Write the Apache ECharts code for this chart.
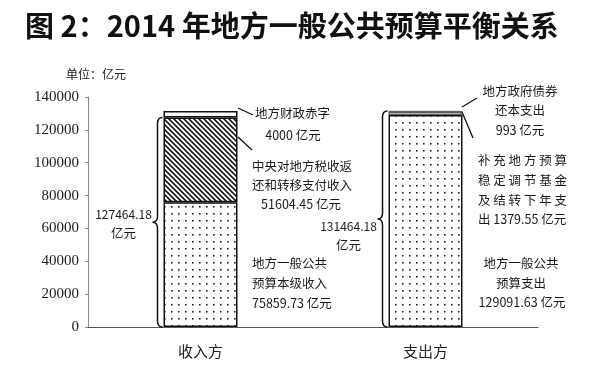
<!DOCTYPE html>
<html><head><meta charset="utf-8">
<script src="https://cdn.jsdelivr.net/npm/echarts@6/dist/echarts.min.js"></script>
<style>html,body{margin:0;padding:0;background:#fff}#c{width:600px;height:365px}</style>
</head><body><div id="c"></div>
<script>
// ---- data ----
const categories = ['收入方', '支出方'];
const baseValues = [75859.73, 129091.63];   // 本级收入 / 一般公共预算支出
const middleValues = [51604.45, 1379.55];   // 税收返还和转移支付 / 补充稳定调节基金及结转
const topValues = [4000, 993];              // 财政赤字 / 债券还本支出
const braceTotals = [127464.18, 131464.18];
const yTickValues = [0, 20000, 40000, 60000, 80000, 100000, 120000, 140000];
const titleText = '图 2：2014 年地方一般公共预算平衡关系';
const unitText = '单位：亿元';

const leftNotes = ['地方财政赤字', topValues[0] + ' 亿元', '中央对地方税收返', '还和转移支付收入',
  middleValues[0] + ' 亿元', '地方一般公共', '预算本级收入', baseValues[0] + ' 亿元'];
const rightNotes = ['地方政府债券', '还本支出', topValues[1] + ' 亿元', '补 充 地 方 预 算', '稳 定 调 节 基 金',
  '及 结 转 下 年 支', '出 ' + middleValues[1] + ' 亿元', '地方一般公共', '预算支出', baseValues[1] + ' 亿元'];

// ---- patterns ----
function dotCanvas() {
  const c = document.createElement('canvas'); c.width = 7; c.height = 7;
  const g = c.getContext('2d');
  g.fillStyle = '#fff'; g.fillRect(0, 0, 7, 7);
  g.fillStyle = '#222'; g.fillRect(3, 3, 1.6, 1.6);
  return c;
}
function hatchCanvas() {
  const s = 5;
  const c = document.createElement('canvas'); c.width = s; c.height = s;
  const g = c.getContext('2d');
  g.fillStyle = '#fff'; g.fillRect(0, 0, s, s);
  g.strokeStyle = '#1a1a1a'; g.lineWidth = 1.6;
  g.beginPath();
  g.moveTo(-1, -1); g.lineTo(s + 1, s + 1);
  g.moveTo(-1, s - 1); g.lineTo(1, s + 1);
  g.moveTo(s - 1, -1); g.lineTo(s + 1, 1);
  g.stroke();
  return c;
}
const DOT = { image: dotCanvas(), repeat: 'repeat' };
const HATCH = { image: hatchCanvas(), repeat: 'repeat' };

const BAR_W = 74;
const cjk = '"Noto Sans CJK SC", sans-serif';
const noteFont = '12.5px ' + cjk;

const chart = echarts.init(document.getElementById('c'), null, { renderer: 'canvas' });

// layout of annotation texts [x, y, align]
const leftPos = [[255,113,'left'],[293,135,'center'],[252,166,'left'],[252,185,'left'],[301,204,'center'],
  [252,263,'left'],[252,283,'left'],[252,303,'left']];
const rightPos = [[520,91,'center'],[520,110,'center'],[520,130,'center'],[478,160,'left'],[478,180,'left'],
  [478,200,'left'],[478,219,'left'],[521,263,'center'],[521,283,'center'],[522,302,'center']];

const graphics = [
  { type: 'text', left: 25, top: 11, style: { text: titleText, font: 'bold 29px ' + cjk, fill: '#111' } },
  { type: 'text', left: 66, top: 68, style: { text: unitText, font: '12px ' + cjk, fill: '#222' } }
];
leftNotes.forEach((t, i) => graphics.push({ type: 'text', x: leftPos[i][0], y: leftPos[i][1],
  style: { text: t, font: noteFont, fill: '#1a1a1a', align: leftPos[i][2], verticalAlign: 'middle' } }));
rightNotes.forEach((t, i) => graphics.push({ type: 'text', x: rightPos[i][0], y: rightPos[i][1],
  style: { text: t, font: noteFont, fill: '#1a1a1a', align: rightPos[i][2], verticalAlign: 'middle' } }));
[[238,108,253,115],[238,137,252,150],[462,107,477,98],[462,112,473,138]].forEach(l => graphics.push({
  type: 'line', shape: { x1: l[0], y1: l[1], x2: l[2], y2: l[3] }, style: { stroke: '#111', lineWidth: 1.3 } }));

function braceItem(params, api) {
  const i = params.dataIndex;
  const p0 = api.coord([api.value(0), 0]);
  const p1 = api.coord([api.value(0), api.value(1)]);
  const x = p0[0] - BAR_W / 2 - 1, w = 10, r = 6;
  const y1 = p1[1], y2 = p0[1], ym = (y1 + y2) / 2;
  const xm = x - w / 2, xt = x - w;
  const d = `M${x} ${y1} Q${xm} ${y1} ${xm} ${y1 + r} L${xm} ${ym - r} Q${xm} ${ym} ${xt} ${ym} ` +
    `Q${xm} ${ym} ${xm} ${ym + r} L${xm} ${y2 - r} Q${xm} ${y2} ${x} ${y2}`;
  const dy = [-8, 7][i];
  const lx = xt - 29;
  const v = api.value(1);
  return { type: 'group', children: [
    { type: 'path', shape: { pathData: d }, style: { stroke: '#111', fill: null, lineWidth: 1.5 } },
    { type: 'text', style: { text: String(v), x: lx, y: ym + dy, font: '12px ' + cjk, fill: '#1a1a1a', align: 'center', verticalAlign: 'middle' } },
    { type: 'text', style: { text: '亿元', x: lx, y: ym + dy + 19, font: '12.5px ' + cjk, fill: '#1a1a1a', align: 'center', verticalAlign: 'middle' } }
  ] };
}

function styleFor(color, thin) {
  return { color: color, borderColor: '#111', borderWidth: thin ? 0.7 : 1.5 };
}

chart.setOption({
  animation: false,
  backgroundColor: '#fff',
  grid: { left: 88, right: 62, top: 97, bottom: 38 },
  xAxis: {
    type: 'category', data: categories,
    axisTick: { show: false },
    axisLine: { lineStyle: { color: '#555', width: 1.2 } },
    axisLabel: { margin: 17, fontSize: 15, fontFamily: cjk, color: '#222' }
  },
  yAxis: {
    type: 'value', min: 0, max: 140000, interval: 20000,
    splitLine: { show: false },
    axisLine: { show: true, lineStyle: { color: '#888' } },
    axisTick: { show: true, length: 3, lineStyle: { color: '#888' } },
    axisLabel: { margin: 9, fontSize: 15, fontFamily: '"Liberation Serif", serif', color: '#222',
      formatter: v => yTickValues.includes(v) ? String(v) : '' }
  },
  graphic: graphics,
  series: [
    { type: 'bar', stack: 's', barWidth: BAR_W, data: baseValues.map(v => ({ value: v, itemStyle: styleFor(DOT, false) })) },
    { type: 'bar', stack: 's', barWidth: BAR_W, data: middleValues.map((v, i) => ({ value: v, itemStyle: styleFor(i === 0 ? HATCH : '#fff', i === 1) })) },
    { type: 'bar', stack: 's', barWidth: BAR_W, data: topValues.map((v, i) => ({ value: v, itemStyle: styleFor('#fff', i === 1) })) },
    { type: 'custom', renderItem: braceItem, z: 5, data: braceTotals.map((t, i) => [i, t]) }
  ]
});
</script></body></html>
